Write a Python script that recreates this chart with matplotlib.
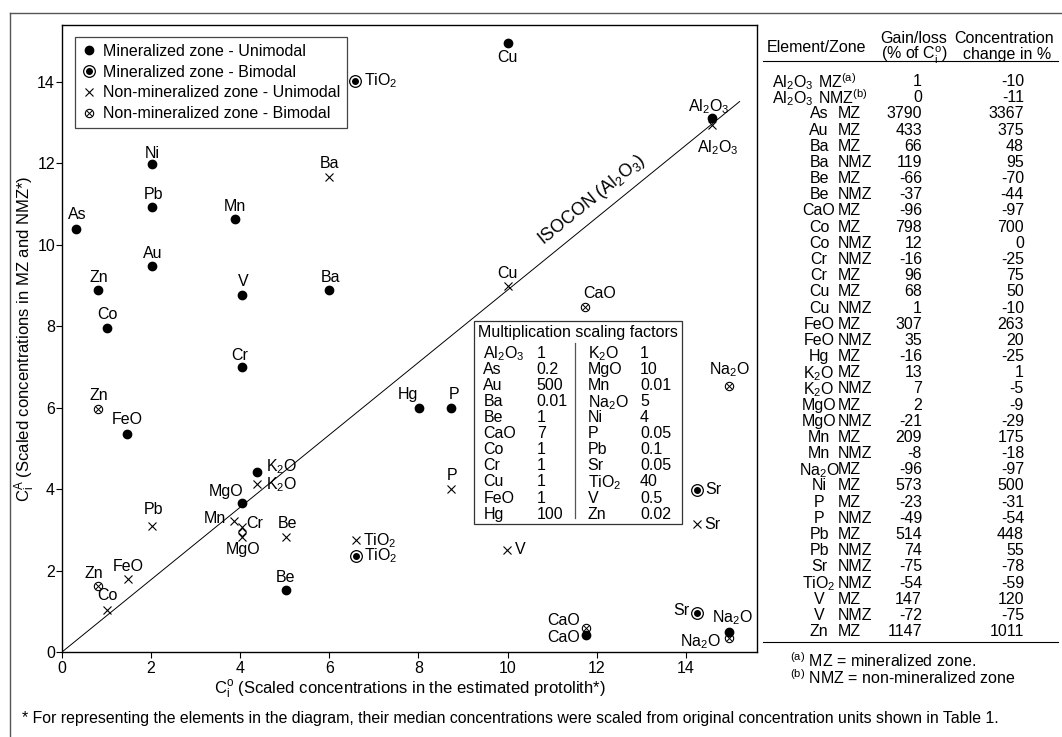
import re
import matplotlib
matplotlib.use('Agg')
import matplotlib.pyplot as plt
from matplotlib.lines import Line2D
from matplotlib.patches import Rectangle
from matplotlib.legend_handler import HandlerTuple

plt.rcParams['font.family'] = ['Liberation Sans', 'DejaVu Sans']
plt.rcParams['mathtext.fontset'] = 'custom'
plt.rcParams['mathtext.rm'] = 'Liberation Sans'
plt.rcParams['mathtext.it'] = 'Liberation Sans:italic'
plt.rcParams['mathtext.bf'] = 'Liberation Sans:bold'

# ---- isocon diagram data (scaled concentrations) ----
mz_uni_names = ['Al2O3', 'As', 'Au', 'Ba', 'Be', 'CaO', 'Co', 'Cr', 'Cu', 'FeO',
                'Hg', 'K2O', 'MgO', 'Mn', 'Na2O', 'Ni', 'P', 'Pb', 'V', 'Zn']
mz_uni_x = [14.58, 0.31, 2.01, 6.00, 5.02, 11.76, 1.02, 4.03, 10.00, 1.47,
            8.02, 4.37, 4.03, 3.88, 14.97, 2.01, 8.74, 2.01, 4.05, 0.80]
mz_uni_y = [13.11, 10.39, 9.49, 8.89, 1.52, 0.42, 7.97, 7.00, 14.97, 5.36,
            5.99, 4.41, 3.65, 10.64, 0.50, 11.98, 5.99, 10.93, 8.77, 8.89]

mz_bi_names = ['TiO2', 'TiO2', 'Sr', 'Sr']
mz_bi_x = [6.57, 6.60, 14.26, 14.26]
mz_bi_y = [14.03, 2.37, 3.98, 0.97]

nmz_uni_names = ['Al2O3', 'Ba', 'Be', 'Co', 'Cr', 'Cu', 'FeO', 'K2O', 'MgO',
                 'Mn', 'P', 'Pb', 'Sr', 'TiO2', 'V']
nmz_uni_x = [14.59, 6.00, 5.02, 1.02, 4.03, 10.00, 1.49, 4.37, 4.03,
             3.87, 8.74, 2.01, 14.26, 6.60, 9.99]
nmz_uni_y = [12.95, 11.66, 2.82, 1.02, 3.08, 8.98, 1.79, 4.13, 2.82,
             3.22, 4.00, 3.10, 3.14, 2.74, 2.51]

nmz_bi_names = ['Zn', 'Zn', 'CaO', 'CaO', 'Na2O', 'Na2O']
nmz_bi_x = [0.80, 0.80, 11.73, 11.76, 14.97, 14.97]
nmz_bi_y = [5.97, 1.62, 8.48, 0.58, 6.54, 0.34]

overlap_x = [4.03]
overlap_y = [2.95]

isocon_x = [0, 15.21]
isocon_y = [0, 13.52]

# label placement (pixels: dx right, dy up, alignment)
mz_uni_lab = [(-3, 12, 'center'), (1, 14, 'center'), (1, 12, 'center'), (1, 13, 'center'),
              (0, 13, 'center'), (-6, -3, 'right'), (0, 13, 'center'), (-2, 12, 'center'),
              (0, -15, 'center'), (0, 14, 'center'), (-11, 14, 'center'), (9, 6, 'left'),
              (-15, 12, 'center'), (0, 12, 'center'), (4, 14, 'center'), (1, 11, 'center'),
              (3, 14, 'center'), (2, 12, 'center'), (1, 13, 'center'), (1, 13, 'center')]
mz_bi_lab = [(9, 0, 'left'), (8, 0, 'left'), (8, 0, 'left'), (-8, 2, 'right')]
nmz_uni_lab = [(6, -23, 'center'), (0, 14, 'center'), (2, 14, 'center'), (0, 15, 'center'),
               (5, 3, 'left'), (0, 13, 'center'), (0, 13, 'center'), (9, -1, 'left'),
               (2, -12, 'center'), (-8, 2, 'right'), (1, 14, 'center'), (2, 16, 'center'),
               (7, 0, 'left'), (7, 0, 'left'), (8, 0, 'left')]
nmz_bi_lab = [(1, 13, 'center'), (-4, 13, 'center'), (15, 13, 'center'),
              (-6, 8, 'right'), (1, 16, 'center'), (-8, -3, 'right')]

# ---- scaling factors inset ----
sf_left_names = ['Al2O3', 'As', 'Au', 'Ba', 'Be', 'CaO', 'Co', 'Cr', 'Cu', 'FeO', 'Hg']
sf_left_vals = ['1', '0.2', '500', '0.01', '1', '7', '1', '1', '1', '1', '100']
sf_right_names = ['K2O', 'MgO', 'Mn', 'Na2O', 'Ni', 'P', 'Pb', 'Sr', 'TiO2', 'V', 'Zn']
sf_right_vals = ['1', '10', '0.01', '5', '4', '0.05', '0.1', '0.05', '40', '0.5', '0.02']

# ---- gain/loss table ----
tbl_elem = ['Al2O3', 'Al2O3', 'As', 'Au', 'Ba', 'Ba', 'Be', 'Be', 'CaO', 'Co', 'Co',
            'Cr', 'Cr', 'Cu', 'Cu', 'FeO', 'FeO', 'Hg', 'K2O', 'K2O', 'MgO', 'MgO',
            'Mn', 'Mn', 'Na2O', 'Ni', 'P', 'P', 'Pb', 'Pb', 'Sr', 'TiO2', 'V', 'V', 'Zn']
tbl_zone = ['MZ', 'NMZ', 'MZ', 'MZ', 'MZ', 'NMZ', 'MZ', 'NMZ', 'MZ', 'MZ', 'NMZ',
            'NMZ', 'MZ', 'MZ', 'NMZ', 'MZ', 'NMZ', 'MZ', 'MZ', 'NMZ', 'MZ', 'NMZ',
            'MZ', 'NMZ', 'MZ', 'MZ', 'MZ', 'NMZ', 'MZ', 'NMZ', 'NMZ', 'NMZ', 'MZ', 'NMZ', 'MZ']
tbl_note = ['(a)', '(b)'] + [''] * 33
tbl_gain = [1, 0, 3790, 433, 66, 119, -66, -37, -96, 798, 12, -16, 96, 68, 1, 307, 35,
            -16, 13, 7, 2, -21, 209, -8, -96, 573, -23, -49, 514, 74, -75, -54, 147, -72, 1147]
tbl_conc = [-10, -11, 3367, 375, 48, 95, -70, -44, -97, 700, 0, -25, 75, 50, -10, 263, 20,
            -25, 1, -5, -9, -29, 175, -18, -97, 500, -31, -54, 448, 55, -78, -59, 120, -75, 1011]


def chem(s):
    return re.sub(r'(\d)', lambda m: '$_\\mathregular{%s}$' % m.group(1), s)


W, H = 1062, 737


def fx(px):
    return px / W


def fy(py):
    return 1 - py / H


FS = 11.5
fig = plt.figure(figsize=(W / 100, H / 100), dpi=100)
ax = fig.add_axes([fx(62), fy(652), fx(757) - fx(62), fy(25) - fy(652)])

ax.plot(isocon_x, isocon_y, color='k', lw=0.7)
ax.text(11.9, 11.1, 'ISOCON (' + chem('Al2O3') + ')', rotation=39.1, ha='center',
        va='center', fontsize=12.8, rotation_mode='anchor')

ax.plot(mz_uni_x, mz_uni_y, 'o', color='k', ms=6, ls='none')
ax.plot(mz_bi_x, mz_bi_y, 'o', mfc='none', mec='k', mew=0.9, ms=8.4, ls='none')
ax.plot(mz_bi_x, mz_bi_y, 'o', color='k', ms=4, ls='none')
ax.plot(nmz_uni_x, nmz_uni_y, 'x', color='k', ms=6, mew=0.8, ls='none')
ax.plot(nmz_bi_x, nmz_bi_y, 'o', mfc='none', mec='k', mew=0.8, ms=6, ls='none')
ax.plot(nmz_bi_x, nmz_bi_y, 'x', color='k', ms=3.8, mew=0.7, ls='none')
ax.plot(overlap_x, overlap_y, 'D', mfc='none', mec='k', mew=0.7, ms=4, ls='none')

for names, xs, ys, labs in [(mz_uni_names, mz_uni_x, mz_uni_y, mz_uni_lab),
                            (mz_bi_names, mz_bi_x, mz_bi_y, mz_bi_lab),
                            (nmz_uni_names, nmz_uni_x, nmz_uni_y, nmz_uni_lab),
                            (nmz_bi_names, nmz_bi_x, nmz_bi_y, nmz_bi_lab)]:
    for n, x, y, (dx, dy, ha) in zip(names, xs, ys, labs):
        ax.annotate(chem(n), (x, y), xytext=(dx * 0.72, dy * 0.72),
                    textcoords='offset points', ha=ha, va='center', fontsize=FS)

ax.set_xlim(0, 15.6)
ax.set_ylim(0, 15.4)
ax.set_xticks(range(0, 15, 2))
ax.set_yticks(range(0, 15, 2))
ax.tick_params(direction='out', length=4, width=0.8, labelsize=FS)
ax.tick_params(axis='x', pad=2.5)
ax.tick_params(axis='y', pad=1)
for s in ax.spines.values():
    s.set_linewidth(1.0)

ax.set_xlabel(r'C$_\mathregular{i}^\mathregular{o}$ (Scaled concentrations in the estimated protolith*)',
              fontsize=12)
ax.xaxis.set_label_coords(0.5, -0.042)
ax.set_ylabel(r'C$_\mathregular{i}^\mathregular{A}$ (Scaled concentrations in MZ and NMZ*)',
              fontsize=12)
ax.yaxis.set_label_coords(-0.036, 0.5)

handles = [
    Line2D([], [], marker='o', color='k', ls='none', ms=6),
    (Line2D([], [], marker='o', mfc='none', mec='k', mew=0.9, ms=8.4, ls='none'),
     Line2D([], [], marker='o', color='k', ms=4, ls='none')),
    Line2D([], [], marker='x', color='k', mew=0.8, ms=6, ls='none'),
    (Line2D([], [], marker='o', mfc='none', mec='k', mew=0.8, ms=6, ls='none'),
     Line2D([], [], marker='x', color='k', mew=0.7, ms=3.8, ls='none')),
]
labels = ['Mineralized zone - Unimodal', 'Mineralized zone - Bimodal',
          'Non-mineralized zone - Unimodal', 'Non-mineralized zone - Bimodal']
leg = ax.legend(handles, labels, loc='upper left', bbox_to_anchor=(fx(75), fy(36.7)),
                bbox_transform=fig.transFigure, borderaxespad=0, fancybox=False,
                edgecolor='#444444', framealpha=1, fontsize=FS, handlelength=0.9,
                handletextpad=0.4, labelspacing=0.36, borderpad=0.45,
                handler_map={tuple: HandlerTuple(ndivide=1, pad=0)})
leg.get_frame().set_linewidth(0.9)

# scaling factors inset
fig.add_artist(Rectangle((fx(474), fy(524.3)), fx(681.7) - fx(474), fy(320.7) - fy(524.3),
                         transform=fig.transFigure, fill=True, facecolor='white',
                         edgecolor='#333333', lw=0.9))
fig.text(fx(578), fy(331), 'Multiplication scaling factors', ha='center', va='center_baseline',
         fontsize=FS)
fig.add_artist(Line2D([fx(575), fx(575)], [fy(343), fy(518)], transform=fig.transFigure,
                      color='#555555', lw=0.9))
for i in range(len(sf_left_names)):
    yy = fy(351.7 + 16.1 * i)
    fig.text(fx(483.3), yy, chem(sf_left_names[i]), ha='left', va='center_baseline', fontsize=FS)
    fig.text(fx(536.7), yy, sf_left_vals[i], ha='left', va='center_baseline', fontsize=FS)
    fig.text(fx(587.7), yy, chem(sf_right_names[i]), ha='left', va='center_baseline', fontsize=FS)
    fig.text(fx(640), yy, sf_right_vals[i], ha='left', va='center_baseline', fontsize=FS)

# gain/loss table
fig.text(fx(816), fy(46), 'Element/Zone', ha='center', va='center_baseline', fontsize=FS)
fig.text(fx(914), fy(37), 'Gain/loss', ha='center', va='center_baseline', fontsize=FS)
fig.text(fx(914), fy(52), r'(% of C$_\mathregular{i}^\mathregular{o}$)', ha='center',
         va='center_baseline', fontsize=FS)
fig.text(fx(1004), fy(37), 'Concentration', ha='center', va='center_baseline', fontsize=FS)
fig.text(fx(1007), fy(53), 'change in %', ha='center', va='center_baseline', fontsize=FS)
fig.add_artist(Line2D([fx(763), fx(1058)], [fy(61), fy(61)], transform=fig.transFigure,
                      color='k', lw=0.8))
for i in range(len(tbl_elem)):
    yy = fy(80 + 16.18 * i)
    if tbl_note[i]:
        fig.text(fx(772), yy, chem(tbl_elem[i]), ha='left', va='center_baseline', fontsize=FS)
        fig.text(fx(818), yy, tbl_zone[i] + '$^\\mathregular{%s}$' % tbl_note[i], ha='left',
                 va='center_baseline', fontsize=FS)
    else:
        fig.text(fx(819), yy, chem(tbl_elem[i]), ha='center', va='center_baseline', fontsize=FS)
        fig.text(fx(838), yy, tbl_zone[i], ha='left', va='center_baseline', fontsize=FS)
    fig.text(fx(922), yy, str(tbl_gain[i]), ha='right', va='center_baseline', fontsize=FS)
    fig.text(fx(1024), yy, str(tbl_conc[i]), ha='right', va='center_baseline', fontsize=FS)
fig.add_artist(Line2D([fx(763), fx(1058)], [fy(642), fy(642)], transform=fig.transFigure,
                      color='k', lw=0.8))
fig.text(fx(790), fy(659), r'$^\mathregular{(a)}$ MZ = mineralized zone.', ha='left',
         va='center_baseline', fontsize=FS)
fig.text(fx(790), fy(676), r'$^\mathregular{(b)}$ NMZ = non-mineralized zone', ha='left',
         va='center_baseline', fontsize=FS)

fig.text(fx(22), fy(717), '* For representing the elements in the diagram, their median concentrations '
         'were scaled from original concentration units shown in Table 1.', ha='left',
         va='center_baseline', fontsize=11.4)

# outer frame
fig.add_artist(Line2D([fx(10), 1], [fy(13), fy(13)], transform=fig.transFigure,
                      color='#555555', lw=1.0))
fig.add_artist(Line2D([fx(10), fx(10)], [0, fy(13)], transform=fig.transFigure,
                      color='#555555', lw=1.0))

fig.savefig('out.png', dpi=100)
